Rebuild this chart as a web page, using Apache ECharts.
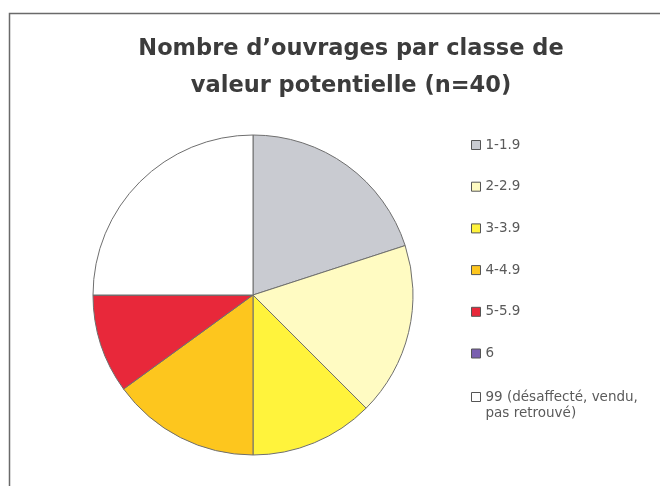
<!DOCTYPE html>
<html>
<head>
<meta charset="utf-8">
<script src="https://cdn.jsdelivr.net/npm/echarts@6/dist/echarts.min.js"></script>
<style>
  html, body { margin: 0; padding: 0; background: #fff; }
  #chart { width: 660px; height: 486px; }
</style>
</head>
<body>
<div id="chart"></div>
<script>
var categories = ['1-1.9', '2-2.9', '3-3.9', '4-4.9', '5-5.9', '6', '99 (désaffecté, vendu, pas retrouvé)'];
var counts = [8, 7, 5, 6, 4, 0, 10];
var colors = ['#c9cbd1', '#fffbc2', '#fff33c', '#fdc61e', '#e8283a', '#7a5fb0', '#ffffff'];

var pieData = categories.map(function (name, i) {
  return { name: name, value: counts[i], itemStyle: { color: colors[i] } };
});

var legendBase = {
  orient: 'vertical',
  left: 471,
  padding: 0,
  itemWidth: 9,
  itemHeight: 9,
  itemGap: 25.7,
  icon: 'rect',
  selectedMode: false,
  itemStyle: { borderColor: '#555', borderWidth: 1 },
  textStyle: {
    fontFamily: 'DejaVu Sans',
    fontSize: 13.5,
    lineHeight: 16,
    color: '#5a5a5a'
  }
};

var myChart = echarts.init(document.getElementById('chart'));
myChart.setOption({
  animation: false,
  title: {
    text: 'Nombre d’ouvrages par classe de\nvaleur potentielle (n=40)',
    left: 346,
    top: 26,
    textAlign: 'center',
    textStyle: {
      fontFamily: 'DejaVu Sans',
      fontWeight: 'bold',
      fontSize: 22.5,
      lineHeight: 37,
      color: '#3c3c3c'
    }
  },
  graphic: [{
    type: 'rect',
    shape: { x: 9.5, y: 13.5, width: 700, height: 500 },
    style: { fill: 'none', stroke: '#6a6a6a', lineWidth: 1.5 }
  }],
  legend: [
    Object.assign({}, legendBase, {
      top: 137,
      data: categories.slice(0, 6)
    }),
    // long label in its own legend so its first line sits next to the box
    Object.assign({}, legendBase, {
      top: 373,
      formatter: function (name) {
        return '\n' + name.replace('vendu, ', 'vendu,\n');
      },
      data: categories.slice(6)
    })
  ],
  series: [{
    type: 'pie',
    center: [253, 295],
    radius: 160,
    startAngle: 90,
    clockwise: true,
    label: { show: false },
    labelLine: { show: false },
    silent: true,
    itemStyle: { borderColor: '#6e6e6e', borderWidth: 1 },
    data: pieData
  }]
});
</script>
</body>
</html>
